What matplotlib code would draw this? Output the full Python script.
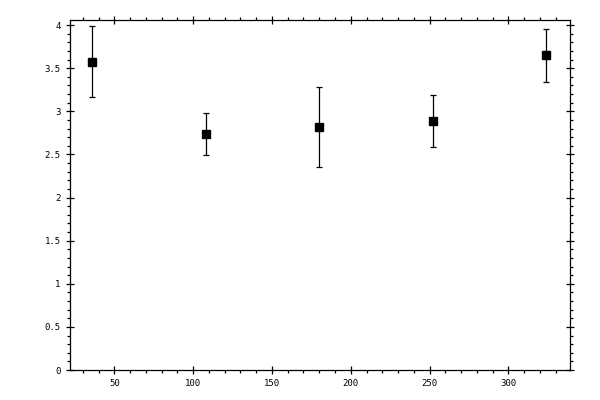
import matplotlib
matplotlib.use("Agg")
import matplotlib.pyplot as plt
from matplotlib.ticker import MultipleLocator

# values
x = [36, 108, 180, 252, 324]
y = [3.568, 2.732, 2.813, 2.883, 3.653]
y_low = [3.161, 2.499, 2.360, 2.581, 3.339]
y_high = [3.986, 2.976, 3.278, 3.185, 3.958]

err = [[m - lo for m, lo in zip(y, y_low)],
       [hi - m for m, hi in zip(y, y_high)]]

plt.rcParams["font.family"] = "DejaVu Sans Mono"
plt.rcParams["font.size"] = 6.5

fig = plt.figure(figsize=(6, 4), dpi=100)
ax = fig.add_axes([0.116, 0.075, 0.834, 0.876])

ax.errorbar(x, y, yerr=err, fmt="s", color="black", ms=5.5,
            elinewidth=0.9, capsize=2.5, capthick=0.9)

ax.set_xlim(21.6, 339.1)
ax.set_ylim(0, 4.064)
ax.xaxis.set_major_locator(MultipleLocator(50))
ax.xaxis.set_minor_locator(MultipleLocator(10))
ax.yaxis.set_major_locator(MultipleLocator(0.5))
ax.yaxis.set_minor_locator(MultipleLocator(0.1))
ax.yaxis.set_major_formatter(plt.FuncFormatter(lambda v, p: f"{v:g}"))

ax.tick_params(which="major", direction="inout", length=6, width=0.9,
               top=True, right=True, labelsize=6.5)
ax.tick_params(which="minor", direction="out", length=2.5, width=0.9,
               top=True, right=True)
for s in ax.spines.values():
    s.set_linewidth(0.9)

fig.savefig("out.png", dpi=100)
